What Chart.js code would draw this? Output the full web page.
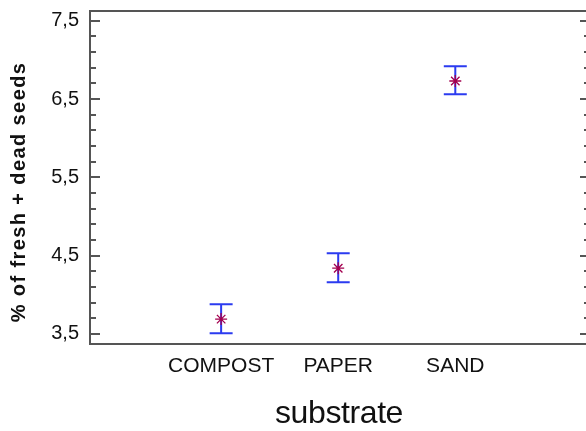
<!DOCTYPE html>
<html lang="en">
<head>
  <meta charset="UTF-8" />
  <title>Seeds by substrate</title>
  <script src="https://cdn.jsdelivr.net/npm/chart.js"></script>
  <style>
    html, body { margin: 0; padding: 0; overflow: hidden; background: #fff; }
    canvas { display: block; }
  </style>
</head>
<body>
  <canvas id="chart" width="586" height="431"></canvas>

  <script>
    // group means with lower / upper interval limits
    const categories = ['COMPOST', 'PAPER', 'SAND'];
    const means = [3.69, 4.34, 6.73];
    const lower = [3.51, 4.16, 6.56];
    const upper = [3.88, 4.53, 6.92];
    const yTicks = [3.5, 4.5, 5.5, 6.5, 7.5];
    const minorStep = 0.2;

    const font = "'Liberation Sans', Arial, sans-serif";
    const axisColor = '#555';
    // the right edge of the frame sits just past the canvas, so only tick stubs show
    const rightOverhang = 4;

    const frame = {
      id: 'frame',
      beforeDatasetsDraw(chart) {
        // interval bars
        const { ctx, scales: { x, y } } = chart;
        ctx.save();
        ctx.strokeStyle = '#2b3bf0';
        ctx.lineWidth = 2;
        categories.forEach((c, i) => {
          const px = x.getPixelForValue(i + 1);
          const top = y.getPixelForValue(upper[i]);
          const bot = y.getPixelForValue(lower[i]);
          ctx.beginPath();
          ctx.moveTo(px, top); ctx.lineTo(px, bot);
          ctx.moveTo(px - 11.5, top); ctx.lineTo(px + 11.5, top);
          ctx.moveTo(px - 11.5, bot); ctx.lineTo(px + 11.5, bot);
          ctx.stroke();
        });
        ctx.restore();
      },
      afterDraw(chart) {
        const { ctx, chartArea: a, scales: { y } } = chart;
        const right = chart.width + rightOverhang;
        ctx.save();
        ctx.strokeStyle = axisColor;
        ctx.lineWidth = 2;
        ctx.strokeRect(a.left, a.top, right - a.left, a.bottom - a.top);

        // inward ticks on both sides
        ctx.beginPath();
        for (let v = yTicks[0]; v <= yTicks[yTicks.length - 1] + 1e-6; v += minorStep) {
          const major = yTicks.some(t => Math.abs(t - v) < 1e-6);
          const len = major ? 10 : 6;
          const py = Math.round(y.getPixelForValue(v));
          ctx.moveTo(a.left, py); ctx.lineTo(a.left + len, py);
          ctx.moveTo(right, py); ctx.lineTo(right - len, py);
        }
        ctx.stroke();

        // axis titles
        ctx.fillStyle = '#111';
        ctx.textAlign = 'center';
        ctx.textBaseline = 'alphabetic';
        ctx.font = '32px ' + font;
        ctx.letterSpacing = '-0.4px';
        ctx.fillText('substrate', 339, 423);

        ctx.translate(25, 192);
        ctx.rotate(-Math.PI / 2);
        ctx.font = 'bold 20px ' + font;
        ctx.letterSpacing = '1.4px';
        ctx.fillText('% of fresh + dead seeds', 0, 0);
        ctx.restore();
      }
    };

    new Chart(document.getElementById('chart'), {
      type: 'scatter',
      data: {
        datasets: [{
          data: means.map((m, i) => ({ x: i + 1, y: m })),
          pointStyle: 'star',
          pointRadius: 6,
          borderColor: '#a3004f',
          backgroundColor: '#a3004f',
          borderWidth: 1.3
        }]
      },
      options: {
        responsive: false,
        animation: false,
        devicePixelRatio: 1,
        layout: { padding: { top: 11, right: 0, left: 0, bottom: 0 } },
        plugins: { legend: { display: false }, tooltip: { enabled: false } },
        scales: {
          x: {
            type: 'linear',
            min: -0.12,
            max: 4.054,
            afterBuildTicks: s => { s.ticks = categories.map((c, i) => ({ value: i + 1 })); },
            afterFit: s => { s.height = 87; s.paddingLeft = 0; s.paddingRight = 0; },
            grid: { display: false, drawTicks: false },
            border: { display: false },
            ticks: {
              autoSkip: false,
              maxRotation: 0,
              padding: 10,
              color: '#111',
              font: { family: font, size: 21 },
              callback: v => categories[v - 1]
            }
          },
          y: {
            min: 3.372,
            max: 7.624,
            afterBuildTicks: s => { s.ticks = yTicks.map(v => ({ value: v })); },
            afterFit: s => { s.width = 90; s.paddingTop = 0; s.paddingBottom = 0; },
            grid: { display: false, drawTicks: false },
            border: { display: false },
            ticks: {
              padding: 11,
              color: '#111',
              font: { family: font, size: 20 },
              callback: v => v.toFixed(1).replace('.', ',')
            }
          }
        }
      },
      plugins: [frame]
    });
  </script>
</body>
</html>
